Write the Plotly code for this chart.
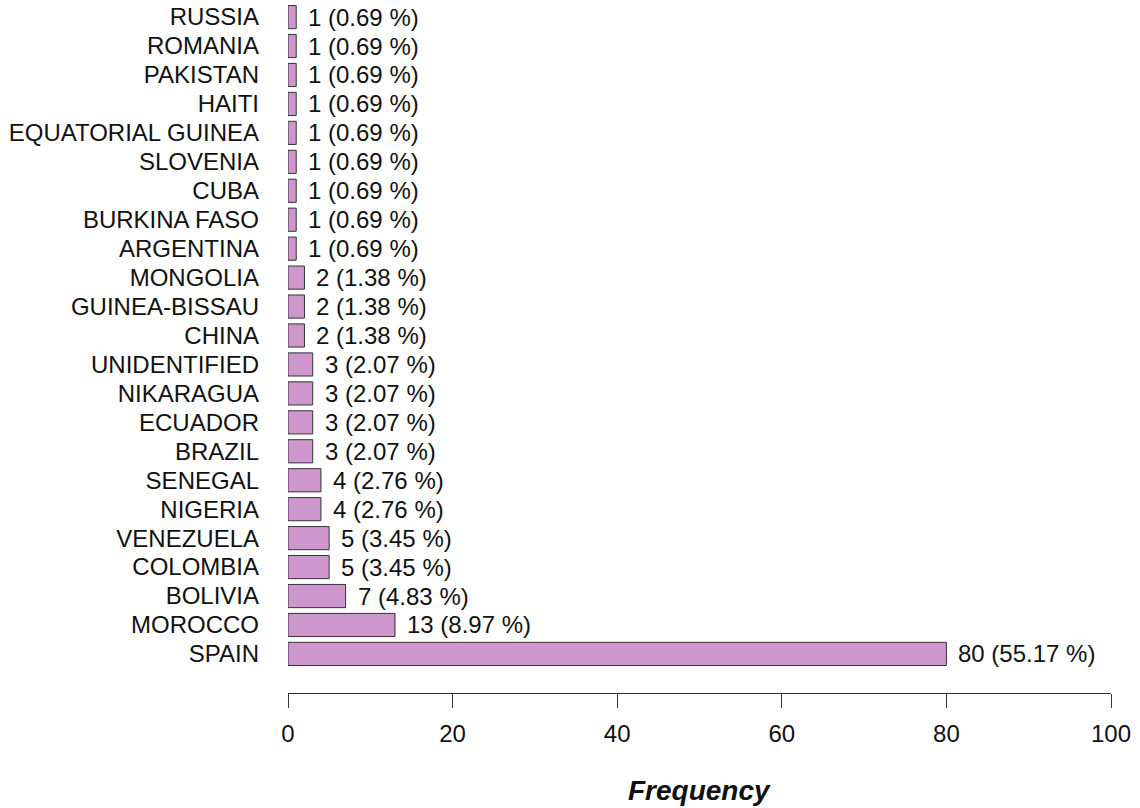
import plotly.graph_objects as go

countries = ["SPAIN", "MOROCCO", "BOLIVIA", "COLOMBIA", "VENEZUELA", "NIGERIA", "SENEGAL",
             "BRAZIL", "ECUADOR", "NIKARAGUA", "UNIDENTIFIED", "CHINA", "GUINEA-BISSAU",
             "MONGOLIA", "ARGENTINA", "BURKINA FASO", "CUBA", "SLOVENIA", "EQUATORIAL GUINEA",
             "HAITI", "PAKISTAN", "ROMANIA", "RUSSIA"]
counts = [80, 13, 7, 5, 5, 4, 4, 3, 3, 3, 3, 2, 2, 2, 1, 1, 1, 1, 1, 1, 1, 1, 1]
x_ticks = [0, 20, 40, 60, 80, 100]

total = sum(counts)
labels = [f"{c} ({c / total * 100:.2f} %)" for c in counts]

FONT = "Liberation Sans, Arial, sans-serif"
FS = 24

fig = go.Figure()
fig.add_trace(go.Bar(
    x=counts, y=countries, orientation="h",
    width=0.8,
    marker=dict(color="#CD96CD", line=dict(color="#333333", width=1)),
    hoverinfo="x+y",
))

for c, name, lab in zip(counts, countries, labels):
    fig.add_annotation(x=c, y=name, text=lab, xanchor="left", yanchor="middle",
                       xshift=10, showarrow=False,
                       font=dict(family=FONT, size=FS, color="#111111"))

fig.add_annotation(x=0.5, y=-0.141, xref="paper", yref="paper",
                   text="<b><i>Frequency</i></b>", showarrow=False,
                   xanchor="center", yanchor="middle",
                   font=dict(family=FONT, size=28, color="#111111"))

fig.update_layout(
    width=1140, height=808,
    margin=dict(l=288, r=29, t=0, b=115),
    plot_bgcolor="white", paper_bgcolor="white",
    showlegend=False,
    font=dict(family=FONT, size=FS, color="#111111"),
    xaxis=dict(range=[0, 100], tickmode="array", tickvals=x_ticks,
               showgrid=False, zeroline=False,
               showline=True, linecolor="#333333", linewidth=1,
               ticks="outside", ticklen=14, tickcolor="#333333", tickwidth=1,
               ticklabelstandoff=5,
               tickfont=dict(family=FONT, size=FS, color="#111111")),
    yaxis=dict(type="category", categoryorder="array", categoryarray=countries,
               tickmode="array", tickvals=countries, ticktext=countries,
               range=[-1.35, 22.59], showgrid=False, zeroline=False, showline=False,
               ticks="", ticklabelstandoff=28,
               tickfont=dict(family=FONT, size=FS, color="#111111")),
)

fig.write_html("out.html")
